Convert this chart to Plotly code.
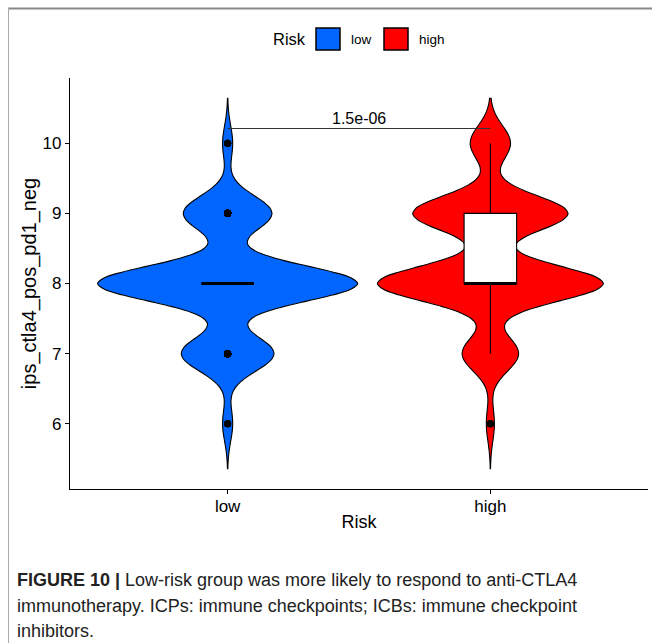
import numpy as np
import plotly.graph_objects as go

# ---- data ----
categories = ["low", "high"]
score_levels = [6, 7, 8, 9, 10]
low_counts = [5, 46, 129, 44, 5]
high_counts = [4, 28, 112, 77, 20]
p_value_label = "1.5e-06"
y_ticks = [6, 7, 8, 9, 10]

colors = {"low": "#0066FF", "high": "#FF0000"}
violin_widths = {"low": 0.99, "high": 0.86}
bandwidth = 0.25
tail = 0.64

samples = {
    "low": np.repeat(score_levels, low_counts).astype(float),
    "high": np.repeat(score_levels, high_counts).astype(float),
}

W, H = 652, 643
L, R, T, B = 70, 4, 78, 154
pw, ph = W - L - R, H - T - B


def px(x):
    return (x - L) / pw


def py(y):
    return (H - B - y) / ph


fig = go.Figure()
box_half = 0.1
for i, cat in enumerate(categories):
    vals = samples[cat]
    fig.add_trace(go.Violin(
        x=np.full(len(vals), i), y=vals, name=cat, showlegend=False,
        fillcolor=colors[cat], opacity=1,
        line=dict(color="black", width=1.1),
        width=violin_widths[cat], bandwidth=bandwidth,
        spanmode="manual", span=[vals.min() - tail, vals.max() + tail],
        points="outliers", pointpos=0, jitter=0,
        marker=dict(color="black", size=7, line=dict(width=0)),
        box=dict(visible=True, width=2 * box_half / violin_widths[cat],
                 fillcolor="white", line=dict(color="black", width=1.1)),
        meanline=dict(visible=False),
        hoverinfo="skip",
    ))
    med = float(np.median(vals))
    fig.add_trace(go.Scatter(
        x=[i - box_half, i + box_half], y=[med, med], mode="lines",
        line=dict(color="black", width=3), showlegend=False, hoverinfo="skip",
    ))

# significance bar
ybar = 10.21
fig.add_shape(type="line", xref="x", yref="y", x0=0, x1=1, y0=ybar, y1=ybar,
              line=dict(color="#333333", width=1))
fig.add_annotation(x=0.5, y=ybar, xref="x", yref="y", text=p_value_label,
                   showarrow=False, yanchor="bottom", yshift=0,
                   font=dict(size=16, color="black"))

# manual legend
fig.add_annotation(x=px(289), y=py(39), xref="paper", yref="paper", text="Risk",
                   showarrow=False, yanchor="middle", xanchor="center",
                   font=dict(size=16.5, color="black"))
for cat, x0, xt in [("low", 316, 361), ("high", 384, 432)]:
    fig.add_shape(type="rect", xref="paper", yref="paper",
                  x0=px(x0), x1=px(x0 + 24), y0=py(50), y1=py(28),
                  fillcolor=colors[cat], line=dict(color="black", width=1.5))
    fig.add_annotation(x=px(xt), y=py(39), xref="paper", yref="paper", text=cat,
                       showarrow=False, yanchor="middle", xanchor="center",
                       font=dict(size=13.5, color="black"))

# frame
fig.add_shape(type="line", xref="paper", yref="paper", x0=px(8), x1=px(652),
              y0=py(8.5), y1=py(8.5), line=dict(color="#888888", width=2))
fig.add_shape(type="line", xref="paper", yref="paper", x0=px(8.5), x1=px(8.5),
              y0=py(8), y1=py(643), line=dict(color="#aaaaaa", width=1))

# caption
cap_lines = [
    "<b>FIGURE 10 |</b> Low-risk group was more likely to respond to anti-CTLA4",
    "immunotherapy. ICPs: immune checkpoints; ICBs: immune checkpoint",
    "inhibitors.",
]
for k, line in enumerate(cap_lines):
    fig.add_annotation(x=px(15), y=py(580 + 25.5 * k), xref="paper", yref="paper",
                       text=line, showarrow=False, xanchor="left", yanchor="middle",
                       font=dict(size=18, color="#222222",
                                 family="Liberation Sans, Arial"))

fig.update_layout(
    width=W, height=H, margin=dict(l=L, r=R, t=T, b=B),
    paper_bgcolor="white", plot_bgcolor="white",
    font=dict(family="Liberation Sans, Arial", color="black"),
    violinmode="overlay", showlegend=False,
    xaxis=dict(range=[-0.6, 1.6], tickvals=[0, 1], ticktext=categories,
               showline=True, linecolor="black", linewidth=1.2,
               ticks="outside", ticklen=4, tickcolor="black", tickwidth=1.2,
               showgrid=False, zeroline=False, tickfont=dict(size=17),
               ticklabelstandoff=-3,
               title=dict(text="Risk", font=dict(size=18), standoff=0)),
    yaxis=dict(range=[5.07, 10.93], tickvals=y_ticks,
               showline=True, linecolor="black", linewidth=1.2,
               ticks="outside", ticklen=4, tickcolor="black", tickwidth=1.2,
               showgrid=False, zeroline=False, tickfont=dict(size=17),
               title=dict(text="ips_ctla4_pos_pd1_neg", font=dict(size=20), standoff=0)),
)

fig.write_html("out.html")
